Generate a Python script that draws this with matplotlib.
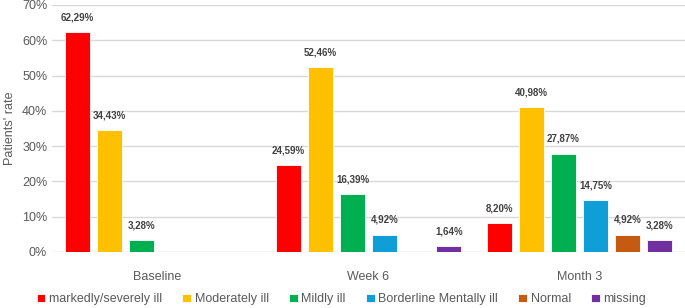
import numpy as np
import matplotlib.pyplot as plt

categories = ['Baseline', 'Week 6', 'Month 3']
series_names = ['markedly/severely ill', 'Moderately ill', 'Mildly ill',
                'Borderline Mentally ill', 'Normal', 'missing']
values = [
    [62.29, 24.59, 8.20],   # markedly/severely ill
    [34.43, 52.46, 40.98],  # Moderately ill
    [3.28, 16.39, 27.87],   # Mildly ill
    [0.0, 4.92, 14.75],     # Borderline Mentally ill
    [0.0, 0.0, 4.92],       # Normal
    [0.0, 1.64, 3.28],      # missing
]
colors = ['#FF0000', '#FFC000', '#00B050', '#0F9ED5', '#C55A11', '#7030A0']

plt.rcParams['font.family'] = ['Liberation Sans', 'DejaVu Sans']

fig = plt.figure(figsize=(6.85, 3.08), dpi=100)
ax = fig.add_axes([0.076, 0.182, 0.924, 0.802])

x = np.arange(len(categories))
pitch = 0.152
width = 0.118
for i, (name, vals, col) in enumerate(zip(series_names, values, colors)):
    pos = x + (i - 2.5) * pitch
    ax.bar(pos, vals, width, color=col, label=name, edgecolor='white', linewidth=0.6, zorder=3)
    for p, v in zip(pos, vals):
        if v > 0:
            ax.annotate(f'{v:.2f}%'.replace('.', ','), (p, v), xytext=(0, 7),
                        textcoords='offset points', ha='center', va='bottom',
                        fontsize=7, fontweight='bold', color='#404040')

ax.set_xlim(-0.5, 2.5)
ax.set_ylim(0, 70)
ax.set_yticks(range(0, 71, 10))
ax.set_yticklabels([f'{t}%' for t in range(0, 71, 10)])
ax.set_xticks(x)
ax.set_xticklabels(categories)
ax.tick_params(axis='both', length=0, colors='#595959', labelsize=9)
ax.tick_params(axis='x', pad=14)
ax.grid(axis='y', color='#D9D9D9', linewidth=1, zorder=0)
for s in ax.spines.values():
    s.set_visible(False)
ax.set_ylabel("Patients' rate", color='#595959', fontsize=9, labelpad=4)

ax.legend(loc='upper center', bbox_to_anchor=(0.457, -0.122), ncol=6, frameon=False,
          fontsize=9, handlelength=0.7, handleheight=0.7, handletextpad=0.3,
          columnspacing=1.6, labelcolor='#595959')

fig.savefig('out.png', dpi=100)
